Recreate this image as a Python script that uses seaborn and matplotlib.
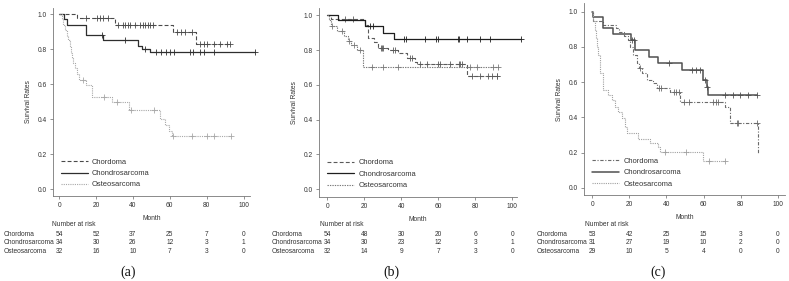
import numpy as np
import pandas as pd
import matplotlib
matplotlib.use("Agg")
import matplotlib.pyplot as plt
import matplotlib.transforms as mtrans
import seaborn as sns

# ==================== data ====================
GROUPS = ["Chordoma", "Chondrosarcoma", "Osteosarcoma"]
RISK_TIMES = [0, 20, 40, 60, 80, 100]

# panel (a)
A_CHORD_T = [0, 9.6, 30.5, 62, 74]
A_CHORD_S = [1.0, 0.98, 0.94, 0.90, 0.83]
A_CHORD_C = [14.7, 20.5, 22.3, 23.9, 26.6, 32.2, 34.6, 35.8, 37.1, 38.6, 41.3, 44, 45.5,
             46.7, 48, 49.5, 50.7, 64, 66.3, 68.5, 72, 76.6, 78.4, 80.3, 83.8, 87.5, 91.1, 92.9]
A_CHOND_T = [0, 2.7, 4.5, 14.7, 24, 42.6, 44.9, 49.1]
A_CHOND_S = [1.0, 0.97, 0.94, 0.88, 0.85, 0.815, 0.80, 0.785]
A_CHOND_C = [23.2, 35.8, 46.7, 52.7, 55, 58.2, 60, 62.1, 70.8, 72.6, 76.2, 78.8, 83.8, 106]
A_OSTEO_T = [0, 1.5, 2.3, 3.3, 4.2, 5.1, 5.8, 6.4, 7.0, 7.8, 8.6, 9.6, 11.0, 14.5, 18.1,
             28.6, 37.8, 54.9, 57.6, 59.4, 61.2]
A_OSTEO_S = [1.0, 0.97, 0.94, 0.91, 0.875, 0.85, 0.81, 0.78, 0.75, 0.72, 0.69, 0.66, 0.625,
             0.596, 0.526, 0.495, 0.453, 0.40, 0.367, 0.333, 0.305]
A_OSTEO_C = [13.2, 24.2, 31.5, 39, 51.3, 62, 72, 80.3, 84, 93]
A_RISK_CHORD = [54, 52, 37, 25, 7, 0]
A_RISK_CHOND = [34, 30, 26, 12, 3, 1]
A_RISK_OSTEO = [32, 16, 10, 7, 3, 0]

# panel (b)
B_CHORD_T = [0, 2, 20.4, 21.8, 25.4, 27.5, 33, 38, 43, 47.4, 48.3, 75.3]
B_CHORD_S = [1.0, 0.98, 0.943, 0.867, 0.844, 0.813, 0.80, 0.78, 0.756, 0.733, 0.718, 0.648]
B_CHORD_C = [9.5, 14, 29, 29.5, 30.2, 35.5, 36.5, 44.5, 46, 50.1, 53.7, 60, 61, 66.5, 71,
             71.8, 72.7, 78, 82.5, 87, 88.8, 91.5, 92]
B_CHOND_T = [0, 6, 20.4, 30.3, 36.2]
B_CHOND_S = [1.0, 0.97, 0.94, 0.90, 0.863]
B_CHOND_C = [23, 24.9, 41.6, 42.4, 52.8, 59, 60, 70.5, 71.2, 75.3, 82.5, 88, 104.7]
B_OSTEO_T = [0, 1, 2, 5, 9, 11, 13, 16, 19.5]
B_OSTEO_S = [1.0, 0.97, 0.94, 0.91, 0.88, 0.85, 0.83, 0.80, 0.70]
B_OSTEO_C = [2.7, 7.8, 11.7, 14.6, 17.7, 24, 30.3, 38.4, 77, 81, 89.5, 92.4]
B_RISK_CHORD = [54, 48, 30, 20, 6, 0]
B_RISK_CHOND = [34, 30, 23, 12, 3, 1]
B_RISK_OSTEO = [32, 14, 9, 7, 3, 0]

# panel (c)
C_CHORD_T = [0, 0.5, 5.6, 12.8, 14.5, 17, 19.5, 20.3, 22.1, 23.9, 25, 27, 29.3, 32.9, 35,
             42, 47.4, 71.6, 74.3, 89.6]
C_CHORD_S = [1.0, 0.949, 0.925, 0.905, 0.885, 0.865, 0.839, 0.80, 0.754, 0.707, 0.682,
             0.65, 0.612, 0.593, 0.565, 0.545, 0.485, 0.46, 0.366, 0.20]
C_CHORD_C = [25.7, 36.1, 37.3, 43.8, 45.2, 46.5, 49.2, 51.9, 65.3, 66.7, 68, 77.8, 78.7, 88.7]
C_CHOND_T = [0, 0.5, 5.6, 11, 20.7, 23, 30.7, 35.6, 48.2, 59.9, 61.7, 62.6]
C_CHOND_S = [1.0, 0.968, 0.905, 0.871, 0.839, 0.782, 0.744, 0.707, 0.669, 0.612, 0.574, 0.527]
C_CHOND_C = [21.5, 22.3, 41.5, 53.5, 56, 58, 60.8, 62, 71.6, 76, 79.7, 84.1, 88.7]
C_OSTEO_T = [0, 0.5, 1.5, 2.0, 2.4, 3.2, 4.2, 5.6, 8.6, 10.4, 12.2, 14, 15.8, 17.6, 18.5,
             24.8, 31.1, 35.6, 36.5, 59.9]
C_OSTEO_S = [1.0, 0.95, 0.896, 0.849, 0.80, 0.754, 0.65, 0.555, 0.527, 0.498, 0.46, 0.432,
             0.394, 0.347, 0.31, 0.275, 0.256, 0.232, 0.205, 0.153]
C_OSTEO_C = [39.2, 50.5, 62.8, 71.6]
C_RISK_CHORD = [53, 42, 25, 15, 3, 0]
C_RISK_CHOND = [31, 27, 19, 10, 2, 0]
C_RISK_OSTEO = [29, 10, 5, 4, 0, 0]

# ==================== style ====================
sns.set_theme(style="ticks")
plt.rcParams['font.family'] = ['Liberation Sans', 'DejaVu Sans']

W, H = 789, 281
fig = plt.figure(figsize=(W / 100, H / 100), dpi=100)

TXT = "#333333"
FS = 4.8


def px_box(left, top, right, bottom):
    return [left / W, 1 - bottom / H, (right - left) / W, (bottom - top) / H]


def draw_curve(ax, t, s, c, label, color, ls, lw):
    t = list(t)
    s = list(s)
    end = max(max(c), t[-1])
    if end > t[-1]:
        t.append(end)
        s.append(s[-1])
    df = pd.DataFrame({"month": t, "surv": s})
    sns.lineplot(data=df, x="month", y="surv", drawstyle="steps-post", estimator=None,
                 sort=False, ax=ax, color=color, linestyle=ls, linewidth=lw, label=label,
                 clip_on=False)
    tt = np.asarray(t)
    idx = np.searchsorted(tt, np.asarray(c), side="right") - 1
    cs = np.asarray(s)[idx]
    ax.plot(c, cs, linestyle="none", marker="+", ms=4.2, mew=0.6, color=color,
            clip_on=False)


PANELS = [
    dict(box=(53, 8, 250, 196), xlim=(-3.3, 103.5), ylim=(-0.04, 1.035),
         label="(a)", lab_x=128, row_x=4, nar_x=52,
         curves=[(A_CHORD_T, A_CHORD_S, A_CHORD_C), (A_CHOND_T, A_CHOND_S, A_CHOND_C),
                 (A_OSTEO_T, A_OSTEO_S, A_OSTEO_C)],
         risk=[A_RISK_CHORD, A_RISK_CHOND, A_RISK_OSTEO],
         styles=[("#4a4a4a", (0, (3.5, 2)), 0.8), ("#2e2e2e", "-", 0.9),
                 ("#a8a8a8", (0, (1, 1)), 0.8)]),
    dict(box=(319.3, 8.3, 516.7, 196.7), xlim=(-4.3, 102.4), ylim=(-0.044, 1.04),
         label="(b)", lab_x=391, row_x=271.7, nar_x=320,
         curves=[(B_CHORD_T, B_CHORD_S, B_CHORD_C), (B_CHOND_T, B_CHOND_S, B_CHOND_C),
                 (B_OSTEO_T, B_OSTEO_S, B_OSTEO_C)],
         risk=[B_RISK_CHORD, B_RISK_CHOND, B_RISK_OSTEO],
         styles=[("#5a5a5a", (0, (3.5, 2)), 0.8), ("#1e1e1e", "-", 0.9),
                 ("#7a7a7a", (0, (1.2, 1)), 0.8)]),
    dict(box=(584.3, 3.3, 785, 195), xlim=(-4.3, 103.9), ylim=(-0.041, 1.048),
         label="(c)", lab_x=658.3, row_x=536.7, nar_x=585,
         curves=[(C_CHORD_T, C_CHORD_S, C_CHORD_C), (C_CHOND_T, C_CHOND_S, C_CHOND_C),
                 (C_OSTEO_T, C_OSTEO_S, C_OSTEO_C)],
         risk=[C_RISK_CHORD, C_RISK_CHOND, C_RISK_OSTEO],
         styles=[("#6a6a6a", (0, (3, 1.5, 1, 1.5)), 0.8), ("#505050", "-", 1.1),
                 ("#a0a0a0", (0, (1, 1)), 0.8)]),
]

ROW_Y = [234.3, 242.7, 251.7]

for p in PANELS:
    ax = fig.add_axes(px_box(*p["box"]))
    for (t, s, c), name, (col, ls, lw) in zip(p["curves"], GROUPS, p["styles"]):
        draw_curve(ax, t, s, c, name, col, ls, lw)

    ax.set_xlim(*p["xlim"])
    ax.set_ylim(*p["ylim"])
    ax.set_xticks(RISK_TIMES)
    ax.set_yticks([0.0, 0.2, 0.4, 0.6, 0.8, 1.0])
    ax.set_yticklabels([f"{v:.1f}" for v in [0.0, 0.2, 0.4, 0.6, 0.8, 1.0]])
    ax.tick_params(axis="both", labelsize=FS, length=2.5, width=0.5, pad=2,
                   colors="#666666", labelcolor=TXT)
    for side in ["top", "right"]:
        ax.spines[side].set_visible(False)
    for side in ["left", "bottom"]:
        ax.spines[side].set_linewidth(0.6)
        ax.spines[side].set_color("#777777")
    ax.set_xlabel("Month", fontsize=FS, color=TXT, labelpad=4)
    ax.set_ylabel("Survival Rates", fontsize=FS, color=TXT, labelpad=4)

    leg = ax.legend(loc="lower left", frameon=False, fontsize=5.4, handlelength=3.6,
                    labelspacing=0.55, borderaxespad=0.6, handletextpad=0.6)
    for txt in leg.get_texts():
        txt.set_color(TXT)

    # number at risk table
    tr = mtrans.blended_transform_factory(ax.transData, fig.transFigure)
    fig.text(p["nar_x"] / W, 1 - 225 / H, "Number at risk", fontsize=FS, color=TXT,
             ha="left", va="center")
    for name, vals, ry in zip(GROUPS, p["risk"], ROW_Y):
        fig.text(p["row_x"] / W, 1 - ry / H, name, fontsize=FS, color=TXT,
                 ha="left", va="center")
        for tm, v in zip(RISK_TIMES, vals):
            ax.text(tm, 1 - ry / H, str(v), transform=tr, fontsize=FS, color=TXT,
                    ha="center", va="center")

    fig.text(p["lab_x"] / W, 1 - 272 / H, p["label"], fontsize=10,
             family=["Liberation Serif", "DejaVu Serif"], color="#111111",
             ha="center", va="center")

fig.savefig("out.png", dpi=100)
